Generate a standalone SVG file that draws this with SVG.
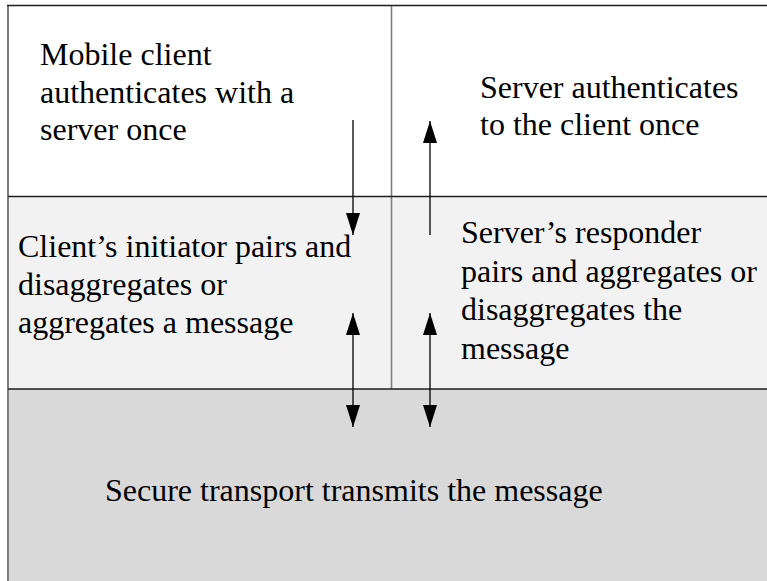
<svg xmlns="http://www.w3.org/2000/svg" width="767" height="581" viewBox="0 0 767 581">
<style>
.t{font-family:"Liberation Serif","Times New Roman",serif;font-size:32px;fill:#000}
.frame{stroke:#7f7f7f;stroke-width:2;fill:none}
.hline{stroke:#1e1e1e;stroke-width:1.5;fill:none}
.arr{stroke:#000;stroke-width:1.3;fill:none}
</style>
<defs>
<marker id="ah" markerUnits="userSpaceOnUse" markerWidth="22" markerHeight="14" refX="22" refY="7" orient="auto-start-reverse">
<path d="M0,0 L22,7 L0,14 z" fill="#000"/>
</marker>
</defs>
<rect x="0" y="0" width="767" height="581" fill="#fff"/>
<g id="top-left">
<rect x="8" y="5.5" width="383.5" height="191" fill="#fff"/>
<text class="t" x="40" y="65">Mobile client</text>
<text class="t" x="40" y="102.5">authenticates with a</text>
<text class="t" x="40" y="140">server once</text>
</g>
<g id="top-right">
<rect x="391.5" y="5.5" width="376" height="191" fill="#fff"/>
<text class="t" x="480" y="98">Server authenticates</text>
<text class="t" x="480" y="135">to the client once</text>
</g>
<g id="mid-left">
<rect x="8" y="196.5" width="383.5" height="192.5" fill="#f2f2f2"/>
<text class="t" x="18" y="257">Client’s initiator pairs and</text>
<text class="t" x="18" y="295">disaggregates or</text>
<text class="t" x="18" y="333">aggregates a message</text>
</g>
<g id="mid-right">
<rect x="391.5" y="196.5" width="376" height="192.5" fill="#f2f2f2"/>
<text class="t" x="461" y="243">Server’s responder</text>
<text class="t" x="461" y="281.5">pairs and aggregates or</text>
<text class="t" x="461" y="320">disaggregates the</text>
<text class="t" x="461" y="358.5">message</text>
</g>
<g id="bottom">
<rect x="8" y="389" width="760" height="193" fill="#d9d9d9"/>
<text class="t" x="105" y="501">Secure transport transmits the message</text>
</g>
<g id="frame">
<line class="frame" x1="8" y1="5" x2="8" y2="581"/>
<line class="frame" x1="391.5" y1="5.5" x2="391.5" y2="389" style="stroke-width:1.6"/>
<line class="hline" x1="7" y1="5.5" x2="767" y2="5.5"/>
<line class="hline" x1="8" y1="196.5" x2="767" y2="196.5"/>
<line class="hline" x1="8" y1="389" x2="767" y2="389"/>
</g>
<g id="connectors">
<line class="arr" x1="353" y1="120" x2="353" y2="235" marker-end="url(#ah)"/>
<line class="arr" x1="430" y1="235" x2="430" y2="121" marker-end="url(#ah)"/>
<line class="arr" x1="353" y1="313" x2="353" y2="427" marker-start="url(#ah)" marker-end="url(#ah)"/>
<line class="arr" x1="430" y1="313" x2="430" y2="427" marker-start="url(#ah)" marker-end="url(#ah)"/>
</g>
</svg>
